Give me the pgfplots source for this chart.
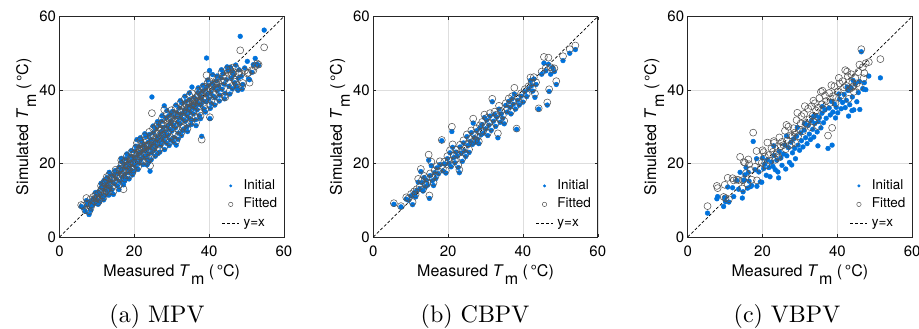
\documentclass[border=0pt]{standalone}
\usepackage{fontspec}
\usepackage{pgfplots}
\pgfplotsset{compat=1.18}
\usepackage{pgfplotstable}
\newfontfamily\hv{TeX Gyre Heros}
\newfontfamily\capfont{lmroman10-regular.otf}
\definecolor{ublue}{RGB}{0,114,220}
\definecolor{fgray}{RGB}{85,85,85}

\pgfplotstableread{
x yi yf
5.8 8.3 8.7
6.3 7.9 8.5
6.9 7.0 7.3
7.4 8.8 9.1
7.9 6.1 7.0
8.2 9.6 10.2
8.6 8.4 8.9
9.0 10.4 10.9
9.3 9.1 9.8
9.8 11.2 10.6
10.1 10.0 10.5
10.4 12.3 11.8
10.7 9.5 10.2
11.0 11.6 12.4
11.2 13.5 13.0
11.5 10.8 11.3
11.7 12.9 13.6
11.9 15.4 14.8
12.1 11.3 12.0
12.3 14.1 14.7
12.5 13.2 12.6
12.7 16.2 15.5
12.9 12.4 13.1
13.1 14.8 14.2
13.3 17.6 16.9
13.5 13.6 14.3
13.8 15.3 15.9
14.0 12.8 13.5
14.3 16.7 16.1
14.6 14.5 15.2
14.9 18.1 17.4
15.2 15.8 16.6
15.5 13.9 14.7
15.7 17.2 16.5
16.0 19.0 18.3
16.2 15.1 16.0
16.4 17.9 18.6
16.6 20.5 19.9
16.8 16.3 17.0
17.0 18.6 18.0
17.1 14.2 13.0
17.3 19.8 20.4
17.5 17.1 17.8
17.7 21.3 20.6
17.9 16.0 16.8
18.1 18.8 19.5
18.3 20.2 19.6
18.5 17.5 18.3
18.7 19.4 20.1
18.9 22.0 21.3
19.1 18.2 18.9
19.3 20.7 21.5
19.5 16.9 17.6
19.7 21.8 22.5
19.9 19.6 20.3
20.1 23.4 22.7
20.3 21.1 21.9
20.5 18.9 19.7
20.7 26.5 25.6
20.9 22.2 22.9
21.1 20.1 20.8
21.3 24.6 23.9
21.5 22.8 23.5
21.7 21.0 21.8
21.9 26.1 25.4
22.1 23.3 24.0
22.3 19.7 20.5
22.5 25.0 24.3
22.7 22.0 22.8
22.9 24.1 24.9
23.1 27.3 26.5
23.3 21.4 22.2
23.5 23.9 24.7
23.7 25.8 25.1
23.9 20.4 21.3
24.1 24.5 25.2
24.2 17.9 19.4
24.4 26.6 27.4
24.6 22.9 23.7
24.7 38.1 33.7
24.9 25.2 26.0
25.1 28.4 27.6
25.3 23.6 24.4
25.5 26.0 26.8
25.7 29.5 29.9
25.9 24.8 25.5
26.1 27.2 28.0
26.3 22.7 23.4
26.5 30.6 29.8
26.7 25.9 26.7
26.9 28.1 28.9
27.1 24.9 25.7
27.3 31.5 30.8
27.5 27.0 27.8
27.7 29.8 30.5
27.9 26.1 26.9
28.0 35.7 34.6
28.2 28.6 29.3
28.4 32.4 31.7
28.6 25.5 26.3
28.8 30.1 30.9
29.0 27.7 28.5
29.2 33.0 32.2
29.4 29.3 30.1
29.6 26.4 27.2
29.8 31.6 32.4
30.0 28.8 29.6
30.2 34.2 33.5
30.4 30.5 31.3
30.6 27.1 27.9
30.8 32.7 33.4
31.0 29.7 30.5
31.2 25.0 26.1
31.4 33.8 33.1
31.6 31.2 32.0
31.8 28.3 29.1
32.0 35.1 34.4
32.2 30.8 31.6
32.4 33.3 34.1
32.6 27.6 28.5
32.8 36.4 35.7
33.0 32.0 32.8
33.2 29.4 30.2
33.4 34.6 35.3
33.6 31.5 32.3
33.8 36.9 36.2
34.0 33.1 33.9
34.2 28.7 29.5
34.4 35.6 36.4
34.6 32.4 33.2
34.8 37.4 36.7
35.0 34.0 34.8
35.2 30.6 31.4
35.4 40.8 39.1
35.6 36.1 36.9
35.8 33.5 34.3
36.0 38.0 37.3
36.2 35.0 35.8
36.4 31.9 32.7
36.6 37.2 38.0
36.8 34.6 35.4
37.0 39.3 38.6
37.2 36.3 37.1
37.4 33.0 33.8
37.6 38.4 39.2
37.8 35.9 36.7
38.0 27.4 26.5
38.2 39.6 38.9
38.4 37.0 37.8
38.6 34.8 35.6
38.9 40.2 40.9
39.1 36.8 37.6
39.3 48.7 44.0
39.5 38.7 39.5
39.7 41.2 40.5
39.9 37.5 38.3
40.1 45.3 42.4
40.2 32.2 32.6
40.4 39.4 40.2
40.6 36.3 37.1
40.8 41.8 41.1
41.0 38.4 39.2
41.3 40.6 41.4
41.6 37.9 38.7
41.9 42.5 41.8
42.2 39.8 40.6
42.5 41.1 41.9
42.8 38.6 39.4
43.1 43.3 42.6
43.4 40.2 41.0
43.7 44.5 43.8
44.0 41.6 42.4
44.3 39.1 38.0
44.6 42.8 43.6
45.0 45.4 44.7
45.3 41.0 41.8
45.6 46.2 45.5
45.9 43.2 44.0
46.2 40.3 41.1
46.5 44.1 44.9
46.8 42.0 42.8
47.1 46.8 46.0
47.4 40.7 41.5
47.7 39.9 40.6
48.0 45.5 44.8
48.3 54.6 50.8
48.6 43.7 44.5
49.0 41.5 41.9
49.5 46.0 45.2
50.2 47.8 44.5
50.8 42.8 42.0
51.4 44.8 45.4
51.8 46.9 45.3
52.3 48.6 46.5
53.2 46.7 46.9
54.7 56.3 51.6
7.2 9.9 10.6
8.4 7.3 8.2
9.6 12.1 11.4
10.3 8.9 9.4
11.1 14.6 13.9
11.8 10.1 10.8
12.6 15.0 16.3
13.2 11.4 12.3
13.9 16.9 16.2
14.4 11.6 12.4
15.0 17.5 18.3
15.9 12.9 14.1
16.5 21.4 20.9
17.4 15.2 15.9
18.0 22.6 22.0
18.6 15.8 16.7
19.2 23.5 23.0
19.8 17.8 18.4
20.4 24.7 24.2
21.0 18.4 19.1
21.6 27.0 26.3
22.2 21.6 20.9
22.8 28.1 27.4
23.4 19.6 20.4
24.0 27.9 28.6
24.5 21.0 21.9
25.0 30.2 29.5
25.6 22.0 22.7
26.2 31.4 30.6
26.8 23.1 24.0
27.4 33.0 32.3
28.1 23.8 24.7
28.7 34.4 33.6
29.3 24.9 25.8
29.9 33.6 34.5
30.5 25.8 26.6
31.1 35.9 35.2
31.7 26.6 27.5
32.3 37.1 36.4
32.9 28.9 29.7
33.5 38.3 37.6
34.1 30.0 30.8
34.7 39.2 38.5
35.3 31.8 32.6
35.9 35.6 36.3
36.5 30.3 31.1
37.1 40.6 39.8
37.7 32.2 33.0
38.3 41.3 40.6
39.0 34.0 34.8
39.6 42.7 42.0
40.3 35.0 35.8
40.9 44.2 43.5
41.5 35.9 36.7
42.1 43.8 43.0
42.7 37.0 37.8
43.3 45.5 44.8
44.1 37.6 38.4
44.8 46.3 45.6
45.5 38.9 39.7
46.3 45.0 46.1
47.0 41.4 42.2
47.8 43.2 44.3
48.8 40.2 41.0
50.5 43.0 44.7
52.8 47.0 47.2
21.4 23.0 23.6
22.6 23.6 24.3
23.6 22.5 23.3
24.8 24.0 24.8
26.0 26.3 27.1
27.2 28.7 29.3
28.3 27.4 28.1
29.5 30.8 31.5
30.7 29.9 30.6
31.9 32.4 33.0
33.1 33.8 34.5
34.3 34.5 35.2
35.5 35.2 36.0
36.7 36.0 36.8
37.9 37.8 38.5
}\dataa

\pgfplotstableread{
x yi yf
5.5 8.9 9.2
7.4 8.2 8.4
8.8 10.3 10.8
9.4 10.0 10.5
10.1 11.2 11.7
10.5 8.8 9.5
10.9 12.0 12.4
11.3 10.9 11.6
11.6 12.6 13.0
12.0 14.9 15.8
12.4 13.1 13.7
12.7 17.8 18.5
13.0 14.8 15.4
13.3 12.5 13.0
13.6 16.2 16.6
13.9 13.6 14.3
14.2 15.4 16.0
14.5 14.1 14.7
14.8 20.9 22.4
15.0 10.5 11.3
15.2 16.7 17.3
15.5 19.4 20.5
15.8 15.3 16.1
16.1 14.0 14.8
16.4 17.5 18.1
16.7 15.9 16.7
17.0 18.8 19.3
17.4 17.2 17.9
17.8 19.7 20.6
18.3 26.2 26.4
18.6 18.0 18.6
19.0 19.9 20.5
19.4 17.4 18.1
19.8 21.3 22.0
20.2 20.0 20.8
20.5 22.9 23.6
20.8 19.1 19.8
21.0 28.7 30.0
21.2 24.4 25.2
21.5 21.6 22.2
21.8 20.2 20.9
22.1 23.1 23.7
22.4 22.0 22.6
22.7 18.9 19.6
23.0 17.5 18.3
23.2 24.5 25.1
23.5 22.8 23.5
23.8 20.6 21.4
24.1 25.6 26.3
24.4 23.4 24.0
24.7 21.9 22.6
25.0 27.3 27.9
25.3 24.9 25.5
25.6 23.0 23.8
25.9 26.0 26.7
26.2 28.4 29.0
26.5 25.2 25.9
26.7 31.0 32.2
27.0 27.1 27.8
27.3 25.8 26.4
27.6 28.9 29.6
27.9 26.6 27.3
28.2 25.4 26.0
28.5 29.7 30.4
28.8 27.8 28.6
29.1 30.6 31.3
29.4 28.2 28.9
29.7 32.5 33.3
30.0 29.4 30.2
30.3 31.8 32.4
30.6 27.6 28.3
30.9 30.4 31.1
31.2 32.9 33.7
31.5 29.0 29.8
31.8 36.8 37.6
32.1 31.5 32.2
32.4 33.4 34.1
32.7 30.1 30.9
33.0 32.6 33.3
33.3 27.0 28.2
33.6 34.8 35.7
33.9 31.2 32.0
34.2 33.5 34.3
34.6 32.3 33.1
35.0 30.8 31.6
35.4 35.8 36.4
35.8 34.0 34.8
36.2 36.9 37.7
36.5 35.3 36.1
36.8 33.5 34.2
37.1 37.6 38.3
37.4 36.1 36.9
37.7 38.9 40.6
38.0 34.8 35.5
38.3 29.3 29.5
38.6 37.2 38.0
39.0 35.9 36.7
39.5 38.3 39.1
40.0 36.7 37.4
40.5 39.5 40.2
41.0 38.2 38.9
41.5 40.3 41.0
42.0 42.6 43.4
42.3 41.2 42.0
42.6 39.7 40.4
42.9 43.0 43.5
43.2 38.0 39.0
43.5 41.5 42.1
44.2 34.8 35.0
45.0 44.3 45.0
45.6 47.3 49.0
46.1 45.2 46.0
46.5 35.9 36.6
46.8 47.0 48.8
47.0 39.6 40.2
47.4 44.3 46.2
47.9 46.1 45.6
48.4 45.0 45.9
48.9 41.5 42.4
50.7 48.0 49.2
52.5 50.0 51.1
54.0 51.0 52.1
}\datab

\pgfplotstableread{
x yi yf
5.3 6.5 8.4
7.8 10.4 13.9
8.0 11.0 13.3
9.6 8.3 10.9
9.9 10.7 14.2
10.1 9.6 10.6
10.7 13.6 16.1
11.0 9.5 10.3
12.3 11.0 15.4
13.1 15.4 15.6
13.6 13.0 15.5
14.0 17.6 21.8
14.6 10.6 13.2
14.8 12.3 15.5
15.0 15.5 20.4
15.3 16.9 20.2
15.6 18.9 17.4
16.0 13.3 14.4
16.4 15.2 19.8
16.8 13.7 18.3
17.1 14.0 15.6
17.5 26.0 28.4
18.0 18.3 19.1
18.4 21.3 23.4
18.5 13.8 15.4
19.0 17.7 20.6
19.4 15.0 18.5
19.8 14.9 20.2
20.3 18.6 23.1
20.6 19.8 21.9
21.0 16.8 19.5
21.3 21.0 25.7
21.7 18.9 22.3
22.0 16.4 20.7
22.4 20.4 24.1
22.8 19.2 23.2
23.1 22.2 25.6
23.4 18.3 21.0
23.8 20.9 22.8
24.1 17.7 22.0
24.5 23.3 27.1
24.9 21.5 24.7
25.2 19.5 25.9
25.6 22.6 25.0
26.0 25.0 28.9
26.2 18.5 23.9
26.5 22.1 26.2
26.9 24.3 30.0
27.2 20.3 24.9
27.6 25.8 27.7
28.0 22.9 27.5
28.3 26.7 29.6
28.6 24.1 28.4
28.8 21.3 25.6
29.1 27.4 31.8
29.5 25.0 27.4
29.9 23.6 29.2
30.2 28.3 30.9
30.4 26.2 32.9
30.8 24.5 28.8
31.1 29.1 33.5
31.5 27.0 31.0
31.9 25.4 30.6
32.2 30.4 34.9
32.5 28.0 32.1
32.8 26.5 29.9
33.1 31.7 35.6
33.4 29.3 33.0
33.7 27.2 31.4
34.0 30.9 36.4
34.3 33.0 34.4
34.6 28.6 32.7
34.9 31.4 35.2
35.2 32.5 37.8
35.6 29.7 39.5
35.9 33.7 36.1
36.3 31.1 34.8
36.7 34.6 38.5
37.0 32.3 37.0
37.5 24.1 27.6
37.8 35.1 39.2
38.1 33.2 36.5
38.6 25.0 29.7
38.8 34.0 38.3
39.2 36.2 41.0
39.7 35.3 37.9
40.1 33.8 39.6
40.6 37.5 41.8
41.0 34.9 38.5
41.4 36.6 42.4
41.8 38.8 40.7
42.1 35.2 45.4
42.4 37.2 41.1
42.8 39.9 43.7
43.0 32.9 37.6
43.3 36.0 40.3
43.7 40.6 44.3
44.0 38.1 42.0
44.4 34.6 39.5
44.8 41.7 43.2
45.2 36.8 41.8
45.6 39.3 44.9
46.0 34.7 40.9
46.4 50.4 51.1
46.8 40.4 46.2
47.2 42.0 44.6
47.6 40.1 47.3
48.4 43.8 47.6
51.5 43.3 48.4
12.0 13.4 16.0
16.2 17.6 21.1
20.0 21.5 23.6
23.0 24.8 26.1
26.4 27.5 30.5
29.3 29.8 33.8
31.3 30.9 35.6
33.6 32.8 37.1
36.0 35.5 39.8
38.4 36.9 41.3
40.4 38.9 43.3
42.6 40.8 45.0
44.2 42.6 41.0
45.9 42.3 46.9
47.0 40.2 43.2
27.8 19.6 25.3
24.3 16.1 21.6
34.8 24.8 30.2
39.5 32.4 36.4
43.9 34.4 40.7
}\datac

\pgfplotsset{
  panel/.style={
    scale only axis, width=224.5pt, height=220.5pt,
    anchor=south west,
    xmin=0, xmax=60, ymin=0, ymax=60,
    xtick={0,20,40,60}, ytick={0,20,40,60},
    grid=major, major grid style={black!13, line width=0.5pt},
    axis line style={black!85, line width=0.8pt},
    tick align=inside, major tick length=3pt,
    tick style={black!85, line width=0.6pt},
    /pgf/number format/assume math mode=true,
    ticklabel style={font=\hv\fontsize{15}{17}\selectfont},
    xticklabel style={yshift=-5pt},
    label style={font=\hv\fontsize{16}{19}\selectfont},
    xlabel style={at={(axis description cs:0.5,-0.1814)}, anchor=base},
    ylabel style={at={(axis description cs:-0.1403,0.5)}, anchor=base},
    xlabel={Measured \textit{T}\kern1pt\raisebox{-0.5em}{m} (\,°C)},
    ylabel={Simulated \textit{T}\kern1pt\raisebox{-0.5em}{m} (\,°C)},
    legend cell align=left,
    legend image code/.code={\draw[mark repeat=2,mark phase=2,##1] plot coordinates {(0pt,0pt) (8.5pt,0pt) (17pt,0pt)};},
    legend style={draw=none, fill=none, inner sep=0pt, outer sep=0pt,
      at={(axis cs:43.4,1.8)}, anchor=south west,
      font=\hv\fontsize{13.5}{15}\selectfont, row sep=3.5pt,
      nodes={inner sep=1pt, text height=10pt, text depth=3pt},
      /tikz/every odd column/.append style={column sep=3pt}},
  },
  ini/.style={only marks, mark=*, mark size=2.4pt, color=ublue, forget plot},
  fit/.style={only marks, mark=o, mark size=3.5pt, color=fgray, mark options={line width=0.55pt}, forget plot},
  diag/.style={black, line width=0.7pt, dash pattern=on 3pt off 2pt, forget plot},
}
\newcommand{\legendstuff}{%
  \addlegendimage{only marks, mark=*, mark size=1.3pt, color=ublue}
  \addlegendentry{Initial}
  \addlegendimage{only marks, mark=o, mark size=2.2pt, color=fgray, mark options={line width=0.5pt}}
  \addlegendentry{Fitted}
  \addlegendimage{black, line width=0.7pt, dash pattern=on 3pt off 2pt}
  \addlegendentry{y=x}
}

\begin{document}
\begin{tikzpicture}
\path[use as bounding box] (0,0) rectangle (919pt,329pt);

\begin{axis}[panel, at={(59.5pt,92pt)}]
\addplot[ini] table[x=x, y=yi] {\dataa};
\addplot[fit] table[x=x, y=yf] {\dataa};
\addplot[diag] coordinates {(0,0) (60,60)};
\legendstuff
\end{axis}

\begin{axis}[panel, at={(373.3pt,92pt)}]
\addplot[ini] table[x=x, y=yi] {\datab};
\addplot[fit] table[x=x, y=yf] {\datab};
\addplot[diag] coordinates {(0,0) (60,60)};
\legendstuff
\end{axis}

\begin{axis}[panel, at={(687.7pt,92pt)}]
\addplot[ini] table[x=x, y=yi] {\datac};
\addplot[fit] table[x=x, y=yf] {\datac};
\addplot[diag] coordinates {(0,0) (60,60)};
\legendstuff
\end{axis}

\node[font=\capfont\fontsize{24}{28}\selectfont, anchor=base] at (157pt,6pt) {(a) MPV};
\node[font=\capfont\fontsize{24}{28}\selectfont, anchor=base] at (475pt,6pt) {(b) CBPV};
\node[font=\capfont\fontsize{24}{28}\selectfont, anchor=base] at (787pt,6pt) {(c) VBPV};
\end{tikzpicture}
\end{document}
